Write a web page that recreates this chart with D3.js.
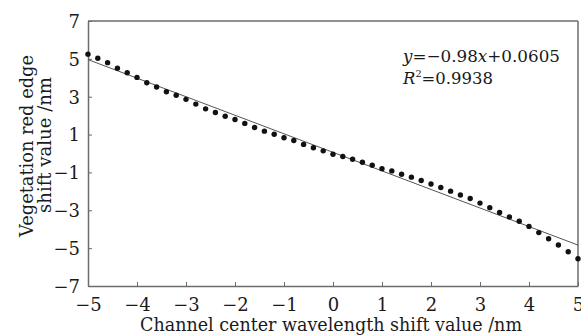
<!DOCTYPE html>
<html>
<head>
<meta charset="utf-8">
<script src="https://cdn.jsdelivr.net/npm/d3@7"></script>
<style>
  body { margin: 0; background: #fff; }
  text { font-family: "DejaVu Serif", "Liberation Serif", serif; fill: #1a1a1a; }
</style>
</head>
<body>
<script>
// GLOBAL VARIABLES
const WIDTH = 581;
const HEIGHT = 335;
const margin = { top: 21, right: 3, bottom: 49, left: 88 };

// DATA
const shiftX = [-5, -4.8, -4.6, -4.4, -4.2, -4, -3.8, -3.6, -3.4, -3.2,
  -3, -2.8, -2.6, -2.4, -2.2, -2, -1.8, -1.6, -1.4, -1.2,
  -1, -0.8, -0.6, -0.4, -0.2, 0, 0.2, 0.4, 0.6, 0.8,
  1, 1.2, 1.4, 1.6, 1.8, 2, 2.2, 2.4, 2.6, 2.8,
  3, 3.2, 3.4, 3.6, 3.8, 4, 4.2, 4.4, 4.6, 4.8, 5];
const redEdgeShift = [5.25, 5.03, 4.80, 4.50, 4.27, 4.02, 3.74, 3.51, 3.26, 3.08,
  2.86, 2.61, 2.36, 2.17, 1.97, 1.80, 1.59, 1.37, 1.18, 1.02,
  0.83, 0.69, 0.48, 0.30, 0.14, -0.04, -0.16, -0.30, -0.46, -0.62,
  -0.80, -0.92, -1.10, -1.25, -1.43, -1.61, -1.80, -1.99, -2.19, -2.38,
  -2.62, -2.86, -3.12, -3.35, -3.58, -3.85, -4.18, -4.50, -4.83, -5.19, -5.56];
// fitted line y = -0.98x + 0.0605 at its two ends
const fitX = [-5, 5];
const fitY = [4.9605, -4.8395];
const xTicks = [-5, -4, -3, -2, -1, 0, 1, 2, 3, 4, 5];
const yTicks = [-7, -5, -3, -1, 1, 3, 5, 7];

const svg = d3.select("body").append("svg").attr("width", WIDTH).attr("height", HEIGHT);

// SCALES
const x = d3.scaleLinear().domain([-5, 5]).range([margin.left, WIDTH - margin.right]);
const y = d3.scaleLinear().domain([-7, 7]).range([HEIGHT - margin.bottom, margin.top]);

const minus = d => d < 0 ? "\u2212" + Math.abs(d) : String(d);

// AXES (ticks point inward)
const xAxis = svg.append("g")
  .attr("transform", `translate(0,${y(-7)})`)
  .call(d3.axisBottom(x).tickValues(xTicks).tickSizeInner(-4).tickSizeOuter(0).tickPadding(12).tickFormat(minus));
const yAxis = svg.append("g")
  .attr("transform", `translate(${x(-5)},0)`)
  .call(d3.axisLeft(y).tickValues(yTicks).tickSizeInner(-4).tickSizeOuter(0).tickPadding(8).tickFormat(minus));

[xAxis, yAxis].forEach(g => {
  g.select(".domain").attr("stroke", "#6b6b6b").attr("stroke-width", 1.5);
  g.selectAll(".tick line").attr("stroke", "#6b6b6b").attr("stroke-width", 1);
  g.selectAll(".tick text").attr("font-size", 18).attr("fill", "#1a1a1a")
    .attr("font-family", "DejaVu Serif, serif");
});
yAxis.selectAll(".tick text").attr("dy", "0.35em");

// top and right frame
svg.append("line").attr("x1", x(-5)).attr("x2", x(5)).attr("y1", y(7)).attr("y2", y(7))
  .attr("stroke", "#6b6b6b").attr("stroke-width", 1.5);
svg.append("line").attr("x1", x(5)).attr("x2", x(5)).attr("y1", y(7)).attr("y2", y(-7))
  .attr("stroke", "#6b6b6b").attr("stroke-width", 1.5);

// FIT LINE
const fitLine = d3.line().x(d => x(d[0])).y(d => y(d[1]));
svg.append("path")
  .datum(d3.zip(fitX, fitY))
  .attr("d", fitLine)
  .attr("fill", "none")
  .attr("stroke", "#555")
  .attr("stroke-width", 1);

// POINTS
svg.append("g")
  .selectAll("circle")
  .data(d3.zip(shiftX, redEdgeShift))
  .enter()
  .append("circle")
  .attr("cx", d => x(d[0]))
  .attr("cy", d => y(d[1]))
  .attr("r", 2.7)
  .attr("fill", "#111");

// EQUATION
const eq = svg.append("text").attr("x", 403).attr("y", 62).attr("font-size", 17);
eq.append("tspan").attr("font-style", "italic").text("y");
eq.append("tspan").text("=\u22120.98");
eq.append("tspan").attr("font-style", "italic").text("x");
eq.append("tspan").text("+0.0605");
eq.attr("textLength", 157).attr("lengthAdjust", "spacingAndGlyphs");

const r2 = svg.append("text").attr("x", 403).attr("y", 84).attr("font-size", 17)
  .attr("textLength", 90).attr("lengthAdjust", "spacingAndGlyphs");
r2.append("tspan").attr("font-style", "italic").text("R");
r2.append("tspan").attr("font-size", 10).attr("dy", -7).text("2");
r2.append("tspan").attr("dy", 7).text("=0.9938");

// AXIS TITLES
svg.append("text")
  .attr("x", 331).attr("y", 331)
  .attr("text-anchor", "middle")
  .attr("font-size", 19)
  .attr("textLength", 382).attr("lengthAdjust", "spacingAndGlyphs")
  .text("Channel center wavelength shift value /nm");

svg.append("text")
  .attr("transform", "translate(33,146) rotate(-90)")
  .attr("text-anchor", "middle")
  .attr("font-size", 19)
  .attr("textLength", 182).attr("lengthAdjust", "spacingAndGlyphs")
  .text("Vegetation red edge");
svg.append("text")
  .attr("transform", "translate(51,145) rotate(-90)")
  .attr("text-anchor", "middle")
  .attr("font-size", 19)
  .attr("textLength", 136).attr("lengthAdjust", "spacingAndGlyphs")
  .text("shift value /nm");
</script>
</body>
</html>
